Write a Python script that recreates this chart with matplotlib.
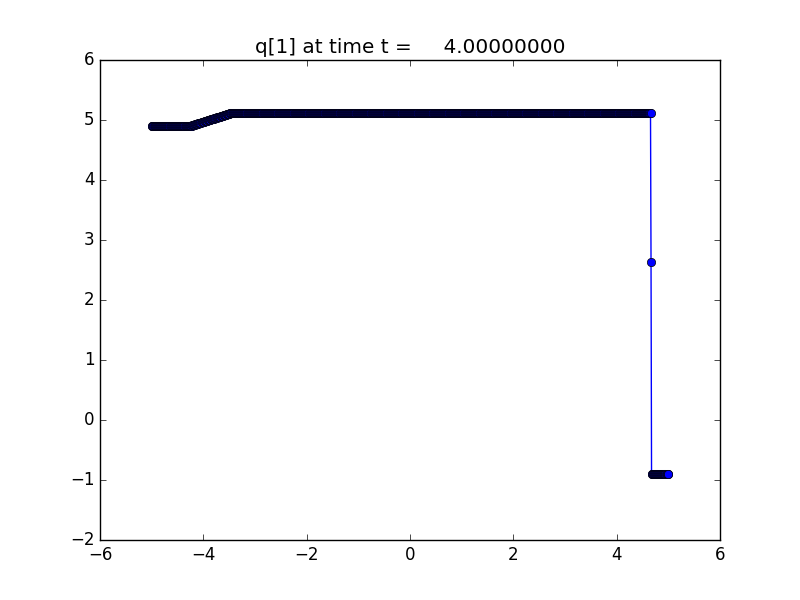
import numpy as np
import matplotlib
matplotlib.use("Agg")
import matplotlib.pyplot as plt

plt.style.use('classic')

# grid of cell centres on [-5, 5]
n_cells = 1000
x = np.linspace(-4.995, 4.995, n_cells)

# piecewise solution values
left_state = 4.90
left_count = 74
ramp_values = [
    4.900, 4.903, 4.905, 4.908, 4.911, 4.914, 4.916, 4.919, 4.922, 4.925,
    4.927, 4.930, 4.933, 4.935, 4.938, 4.941, 4.944, 4.946, 4.949, 4.952,
    4.955, 4.957, 4.960, 4.963, 4.965, 4.968, 4.971, 4.974, 4.976, 4.979,
    4.982, 4.985, 4.987, 4.990, 4.993, 4.995, 4.998, 5.001, 5.004, 5.006,
    5.009, 5.012, 5.015, 5.017, 5.020, 5.023, 5.025, 5.028, 5.031, 5.034,
    5.036, 5.039, 5.042, 5.045, 5.047, 5.050, 5.053, 5.055, 5.058, 5.061,
    5.064, 5.066, 5.069, 5.072, 5.075, 5.077, 5.080, 5.083, 5.085, 5.088,
    5.091, 5.094, 5.096, 5.099, 5.102, 5.105, 5.107, 5.110,
]
plateau_state = 5.11
plateau_count = 814
jump_values = [2.64]
right_state = -0.90
right_count = 33

q = np.concatenate([
    np.full(left_count, left_state),
    np.array(ramp_values),
    np.full(plateau_count, plateau_state),
    np.array(jump_values),
    np.full(right_count, right_state),
])

t = 4.0

fig = plt.figure(figsize=(8, 6), dpi=100)
ax = fig.add_subplot(111)
ax.plot(x, q, 'bo-')
ax.set_xlim(-6, 6)
ax.set_ylim(-2, 6)
ax.set_title('q[1] at time t = %14.8f' % t)
fig.savefig('out.png', dpi=100)
